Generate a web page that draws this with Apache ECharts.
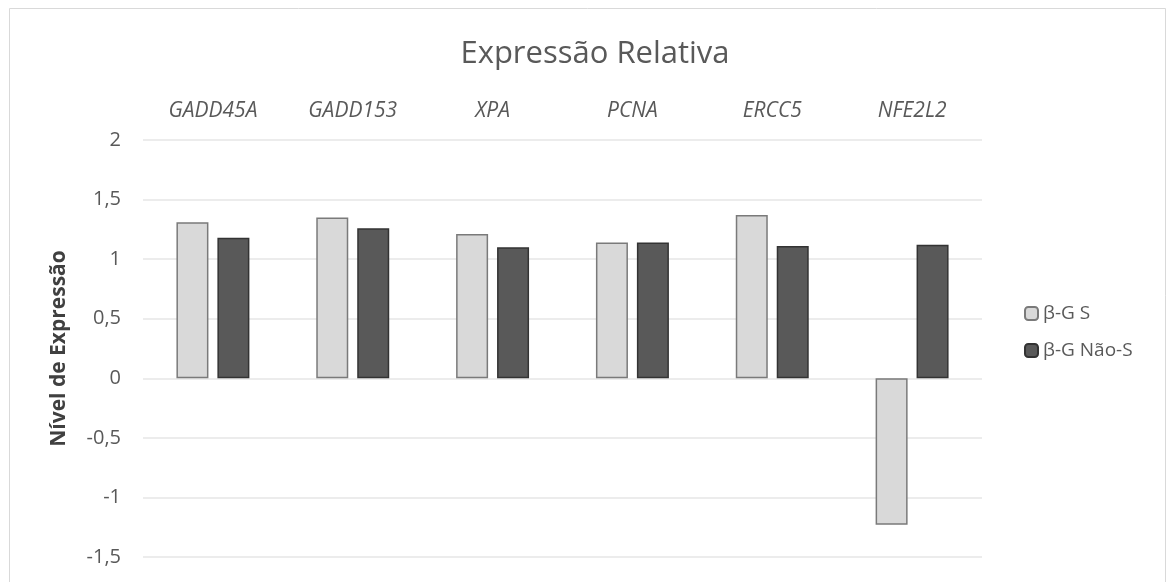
<!DOCTYPE html>
<html>
<head>
<meta charset="utf-8">
<script src="https://cdn.jsdelivr.net/npm/echarts@6/dist/echarts.min.js"></script>
<style>
  html, body { margin: 0; padding: 0; background: #ffffff; }
  #chart { width: 1168px; height: 582px; }
</style>
</head>
<body>
<div id="chart"></div>
<script>
// Genes shown along the top axis
const genes = ['GADD45A', 'GADD153', 'XPA', 'PCNA', 'ERCC5', 'NFE2L2'];
// Relative expression per group
const betaGS = [1.31, 1.35, 1.21, 1.14, 1.37, -1.23];
const betaGNaoS = [1.18, 1.26, 1.10, 1.14, 1.11, 1.12];
const seriesNames = ['β-G S', 'β-G Não-S'];

const FONT = '"Open Sans", "Liberation Sans", sans-serif';
const chart = echarts.init(document.getElementById('chart'), null, { renderer: 'canvas' });

chart.setOption({
  backgroundColor: '#ffffff',
  animation: false,
  graphic: [{
    type: 'rect',
    shape: { x: 9.5, y: 8.5, width: 1156, height: 620 },
    style: { fill: null, stroke: '#d9d9d9', lineWidth: 1 },
    silent: true
  }],
  title: {
    text: 'Expressão Relativa',
    left: 590,
    top: 34,
    textAlign: 'center',
    textStyle: { fontFamily: FONT, fontSize: 31, fontWeight: 'normal', color: '#595959' }
  },
  legend: {
    orient: 'vertical',
    left: 1019,
    top: 299,
    itemWidth: 13,
    itemHeight: 13,
    itemGap: 18,
    textStyle: { fontFamily: FONT, fontSize: 19, color: '#595959' },
    data: seriesNames
  },
  grid: { left: 143, right: 186, top: 140, bottom: 25 },
  xAxis: {
    type: 'category',
    data: genes,
    position: 'top',
    axisLine: { show: false, onZero: false },
    axisTick: { show: false },
    axisLabel: { fontFamily: FONT, fontSize: 21, fontStyle: 'italic', color: '#595959', margin: 18 }
  },
  yAxis: {
    type: 'value',
    min: -1.5,
    max: 2,
    interval: 0.5,
    name: 'Nível de Expressão',
    nameLocation: 'middle',
    nameGap: 73,
    nameTextStyle: { fontFamily: FONT, fontSize: 21, fontWeight: 'bold', color: '#404040' },
    axisLine: { show: false },
    axisTick: { show: false },
    axisLabel: {
      fontFamily: FONT, fontSize: 20, color: '#595959', margin: 22,
      formatter: v => String(v).replace('.', ',')
    },
    splitLine: { lineStyle: { color: '#e6e6e6', width: 1.5 } }
  },
  series: [
    {
      name: seriesNames[0],
      type: 'bar',
      data: betaGS,
      barWidth: 32,
      barGap: '28%',
      itemStyle: { color: '#d9d9d9', borderColor: '#7a7a7a', borderWidth: 1.5 }
    },
    {
      name: seriesNames[1],
      type: 'bar',
      data: betaGNaoS,
      barWidth: 32,
      itemStyle: { color: '#595959', borderColor: '#333333', borderWidth: 1.5 }
    }
  ]
});
</script>
</body>
</html>
